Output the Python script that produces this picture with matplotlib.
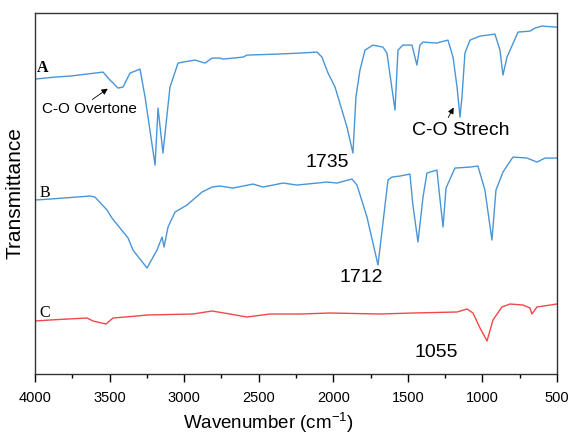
import numpy as np
import matplotlib
matplotlib.use("Agg")
import matplotlib.pyplot as plt

plt.rcParams['font.family'] = ['Liberation Sans', 'DejaVu Sans']
plt.rcParams['mathtext.default'] = 'regular'

# spectrum A (wavenumber, transmittance in arbitrary units)
wn_a = [4000, 3866, 3765, 3544, 3497, 3443, 3410, 3363, 3296, 3262, 3195, 3175, 3142,
        3095, 3041, 3008, 2927, 2860, 2813, 2760, 2739, 2605, 2579, 2377, 2223, 2109,
        2076, 2035, 1988, 1908, 1868, 1848, 1821, 1787, 1734, 1667, 1640, 1586, 1566,
        1533, 1472, 1439, 1419, 1398, 1305, 1284, 1231, 1197, 1170, 1150, 1137, 1117,
        1083, 1016, 916, 882, 862, 835, 761, 681, 647, 601, 500]
tr_a = [295, 297, 298, 302, 294, 286, 287, 301, 305, 277, 209, 266, 221,
        287, 311, 312, 314, 311, 316, 316, 315, 317, 319, 320, 321, 322,
        317, 301, 287, 247, 221, 277, 304, 324, 329, 327, 321, 264, 324,
        329, 329, 309, 329, 332, 331, 332, 334, 317, 287, 257, 277, 321,
        334, 338, 340, 324, 299, 317, 342, 343, 346, 348, 347]

# spectrum B
wn_b = [4000, 3899, 3631, 3598, 3517, 3484, 3376, 3343, 3249, 3182, 3148, 3135, 3108,
        3061, 2981, 2927, 2880, 2813, 2760, 2672, 2538, 2471, 2337, 2243, 2042, 1975,
        1875, 1841, 1774, 1700, 1667, 1633, 1606, 1553, 1486, 1466, 1432, 1398, 1372,
        1305, 1291, 1264, 1244, 1184, 1083, 1030, 983, 936, 909, 862, 795, 701, 634,
        580, 500]
tr_b = [174, 175, 178, 177, 164, 156, 136, 124, 106, 124, 137, 127, 147,
        162, 169, 176, 182, 187, 188, 186, 190, 187, 191, 189, 192, 191,
        195, 189, 157, 109, 151, 194, 197, 198, 200, 169, 132, 177, 201,
        204, 184, 147, 186, 206, 207, 208, 184, 134, 184, 202, 217, 216, 212,
        216, 216]

# spectrum C
wn_c = [4000, 3899, 3651, 3611, 3524, 3477, 3316, 3249, 2941, 2813, 2693, 2579, 2424,
        2223, 2022, 1687, 1466, 1170, 1103, 1063, 1016, 969, 929, 869, 815, 728, 681,
        668, 634, 500]
tr_c = [53, 54, 56, 53, 50, 56, 58, 59, 60, 63, 60, 57, 60,
        60, 61, 60, 61, 62, 65, 61, 46, 33, 54, 67, 70, 69, 66,
        60, 67, 70]

blue = '#4a95d6'
red = '#f04848'

fig, ax = plt.subplots(figsize=(5.73, 4.37), dpi=100)
fig.subplots_adjust(left=0.0611, right=0.972, bottom=0.1442, top=0.970)

ax.plot(wn_a, tr_a, color=blue, lw=1.0)
ax.plot(wn_b, tr_b, color=blue, lw=1.0)
ax.plot(wn_c, tr_c, color=red, lw=1.0)

ax.set_xlim(4000, 500)
ax.set_ylim(0, 361)
ax.set_xticks(np.arange(4000, 499, -500))
ax.set_xticks(np.arange(3750, 500, -500), minor=True)
ax.tick_params(axis='x', which='major', direction='out', length=6, width=1, labelsize=10.5, pad=6)
ax.tick_params(axis='x', which='minor', direction='out', length=3, width=1)
ax.set_yticks([])
for sp in ax.spines.values():
    sp.set_color('#333333')
    sp.set_linewidth(1.0)

ax.set_ylabel('Transmittance', fontsize=15)
ax.yaxis.set_label_coords(-0.02, 0.5)
ax.set_xlabel('Wavenumber (cm$^{-1}$)', fontsize=13.5)
ax.xaxis.set_label_coords(0.448, -0.103)

serif = ['Liberation Serif', 'DejaVu Serif']
ax.text(3946, 306, 'A', family=serif, fontsize=11.5, fontweight='bold', ha='center', va='center')
ax.text(3933, 181, 'B', family=serif, fontsize=11.5, ha='center', va='center')
ax.text(3933, 61, 'C', family=serif, fontsize=11.5, ha='center', va='center')

ax.annotate('', xy=(3497, 287), xytext=(3631, 273),
            arrowprops=dict(arrowstyle='-|>', color='black', lw=0.6, mutation_scale=9))
ax.text(3638, 265, 'C-O Overtone', fontsize=11, ha='center', va='center')

ax.annotate('', xy=(1184, 269), xytext=(1238, 254),
            arrowprops=dict(arrowstyle='-|>', color='black', lw=0.6, mutation_scale=9))
ax.text(1144, 244, 'C-O Strech', fontsize=14, ha='center', va='center')

ax.text(2042, 212, '1735', fontsize=14, ha='center', va='center')
ax.text(1814, 97, '1712', fontsize=14, ha='center', va='center')
ax.text(1311, 21, '1055', fontsize=14, ha='center', va='center')

fig.savefig('out.png', dpi=100)
